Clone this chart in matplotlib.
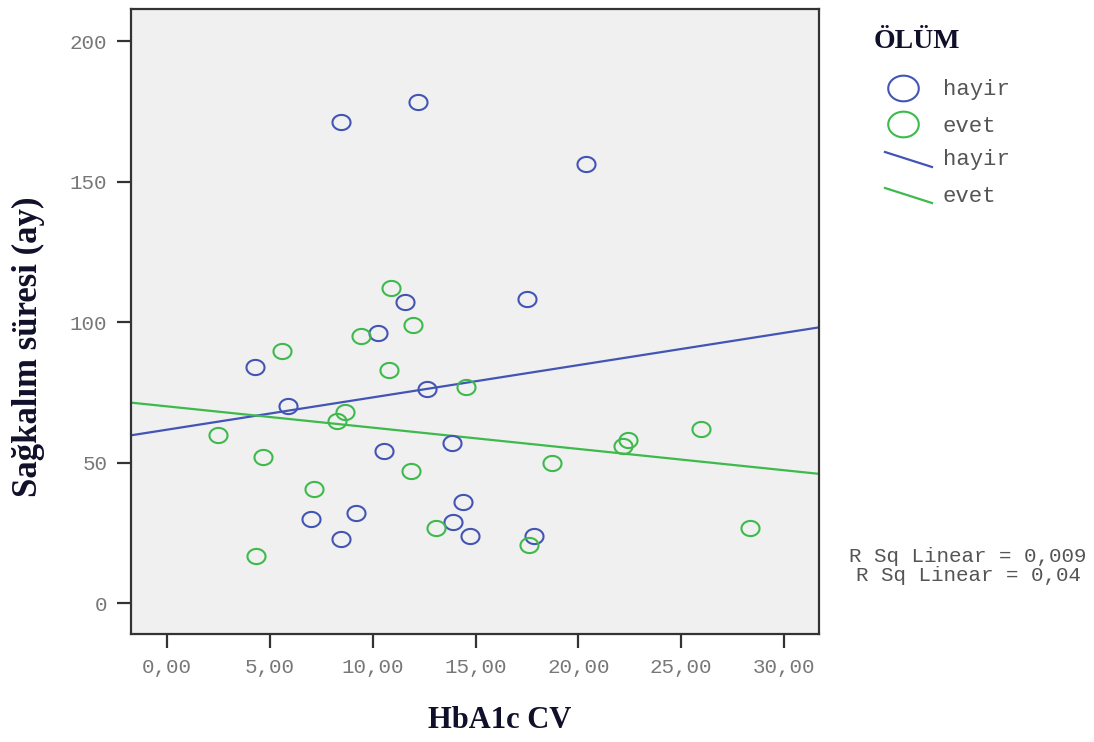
import numpy as np
import matplotlib
matplotlib.use("Agg")
import matplotlib.pyplot as plt
from matplotlib.path import Path
from matplotlib.lines import Line2D

# group "hayir" (alive)
hayir_x = [8.46, 12.2, 20.37, 11.57, 17.5, 10.26, 4.28, 12.64, 5.88,
           13.86, 10.55, 7.0, 9.19, 8.46, 14.39, 13.9, 14.73, 17.84]
hayir_y = [171.2, 178.3, 156.2, 107.1, 108.2, 96.1, 84.0, 76.2, 70.1,
           56.9, 54.1, 29.9, 32.0, 22.8, 35.9, 28.8, 23.8, 23.8]

# group "evet" (dead)
evet_x = [10.89, 5.59, 9.43, 11.96, 10.79, 14.54, 8.65, 8.26, 2.48, 4.67,
          7.15, 4.33, 11.86, 13.08, 18.72, 22.41, 22.17, 25.96, 28.34, 17.6]
evet_y = [112.1, 89.7, 95.0, 98.9, 82.9, 76.9, 68.0, 64.8, 59.8, 52.0,
          40.6, 16.7, 47.0, 26.7, 49.8, 58.0, 55.9, 61.9, 26.7, 20.6]

groups = ["hayir", "evet"]
colors = {"hayir": "#4355B4", "evet": "#3DBA4B"}
r2_labels = ["R Sq Linear = 0,009", "R Sq Linear = 0,04"]

x_ticks = [0, 5, 10, 15, 20, 25, 30]
y_ticks = [0, 50, 100, 150, 200]

MONO = "Liberation Mono"
SERIF = "Liberation Serif"
TICK_GRAY = "#777777"
LABEL_COL = "#10102a"

# slightly flattened circle like SPSS output
t = np.linspace(0, 2 * np.pi, 60)
ellipse = Path(np.column_stack([np.cos(t), 0.84 * np.sin(t)]), closed=True)

fig = plt.figure(figsize=(10.94, 7.42), dpi=100)
ax = fig.add_axes([131 / 1094, 108 / 742, 688 / 1094, 625 / 742])
ax.set_facecolor("#F0F0F0")

data = {"hayir": (hayir_x, hayir_y), "evet": (evet_x, evet_y)}
xlim = (-1.75, 31.7)
ax.set_xlim(*xlim)
ax.set_ylim(-11.0, 211.4)

for g in groups:
    gx, gy = data[g]
    ax.plot(gx, gy, linestyle="none", marker=ellipse, markersize=13,
            markerfacecolor="none", markeredgecolor=colors[g],
            markeredgewidth=1.5, zorder=3)

# fit lines over the full x range
for g in groups:
    gx, gy = data[g]
    slope, icpt = np.polyfit(gx, gy, 1)
    xs = np.array(xlim)
    ax.plot(xs, icpt + slope * xs, color=colors[g], lw=1.6, zorder=2)

ax.set_xticks(x_ticks)
ax.set_xticklabels([("%.2f" % v).replace(".", ",") for v in x_ticks])
ax.set_yticks(y_ticks)
ax.tick_params(direction="out", length=10, width=1.6, color="#333333",
               labelsize=15, labelcolor=TICK_GRAY, pad=7)
for lbl in ax.get_xticklabels() + ax.get_yticklabels():
    lbl.set_family(MONO)
for s in ax.spines.values():
    s.set_color("#333333")
    s.set_linewidth(1.6)

fig.text(500 / 1094, 1 - 720 / 742, "HbA1c CV", ha="center", va="center",
         family=SERIF, weight="bold", fontsize=22, color=LABEL_COL)
fig.text(28 / 1094, 1 - 347 / 742, "Sağkalım süresi (ay)", ha="center",
         va="center", rotation=90, family=SERIF, weight="bold", fontsize=25,
         color=LABEL_COL)

# legend drawn in a pixel-space overlay
lax = fig.add_axes([0, 0, 1, 1])
lax.set_xlim(0, 1094)
lax.set_ylim(742, 0)
lax.axis("off")
lax.text(874, 42, "ÖLÜM", ha="left", va="center", family=SERIF,
         weight="bold", fontsize=20, color=LABEL_COL)
for i, g in enumerate(groups):
    yy = 88 + 36 * i
    lax.plot([903], [yy], marker=ellipse, markersize=22, linestyle="none",
             markerfacecolor="none", markeredgecolor=colors[g],
             markeredgewidth=1.5)
    lax.text(943, yy + 2, g, ha="left", va="center", family=MONO,
             fontsize=16, color="#555555")
for i, g in enumerate(groups):
    yy = 160 + 36 * i
    lax.add_line(Line2D([885, 932], [yy - 8, yy + 7], color=colors[g], lw=1.6))
    lax.text(943, yy, g, ha="left", va="center", family=MONO,
             fontsize=16, color="#555555")

lax.text(968, 566, "\n".join(r2_labels), ha="center", va="center",
         multialignment="center", family=MONO, fontsize=15,
         color="#555555", linespacing=1.0)

fig.savefig("out.png", dpi=100)
